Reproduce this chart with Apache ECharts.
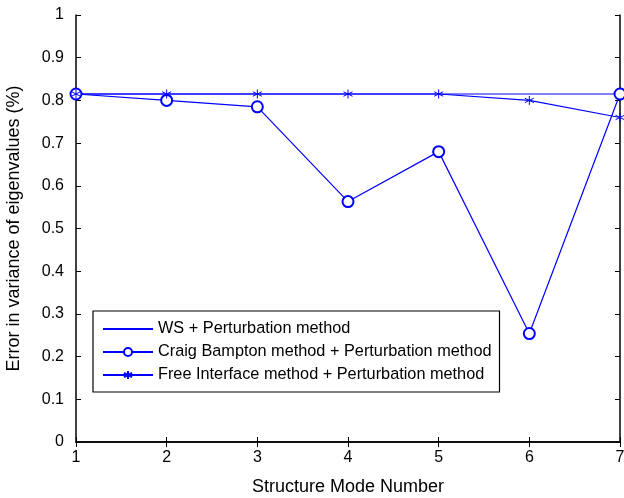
<!DOCTYPE html>
<html><head><meta charset="utf-8">
<script src="https://cdn.jsdelivr.net/npm/echarts@6/dist/echarts.min.js"></script>
<style>html,body{margin:0;padding:0;background:#fff}#c{width:624px;height:498px}</style>
</head><body><div id="c"></div>
<script>
const modes = [1, 2, 3, 4, 5, 6, 7];
const wsPert = [0.815, 0.815, 0.815, 0.815, 0.815, 0.815, 0.815];
const craigBampton = [0.815, 0.800, 0.785, 0.563, 0.680, 0.254, 0.815];
const freeInterface = [0.815, 0.815, 0.815, 0.815, 0.815, 0.800, 0.760];
const seriesNames = ['WS + Perturbation method', 'Craig Bampton method + Perturbation method', 'Free Interface method + Perturbation method'];

const blue = '#0000ff';
const star = 'path://M0,-5L0,5M-4.33,-2.5L4.33,2.5M-4.33,2.5L4.33,-2.5';
const pairs = arr => modes.map((m, i) => [m, arr[i]]);
const font = 'Liberation Sans, Arial, sans-serif';

const axisCommon = {
  axisLine: { show: true, lineStyle: { color: '#000', width: 1.5 } },
  axisTick: { show: true, inside: true, length: 5, lineStyle: { color: '#000' } },
  splitLine: { show: false }
};

const chart = echarts.init(document.getElementById('c'));
chart.setOption({
  animation: false,
  backgroundColor: '#fff',
  grid: { left: 76, right: 4, top: 15, bottom: 56, containLabel: false, outerBoundsMode: 'none' },
  xAxis: [
    Object.assign({ type: 'value', min: 1, max: 7, interval: 1, position: 'bottom',
      name: 'Structure Mode Number', nameLocation: 'middle', nameGap: 36,
      nameTextStyle: { fontSize: 18, color: '#000', fontFamily: font },
      axisLabel: { fontSize: 16, color: '#000', fontFamily: font, margin: 8 } }, axisCommon),
    Object.assign({ type: 'value', min: 1, max: 7, interval: 1, position: 'top',
      axisLabel: { show: false } }, axisCommon)
  ],
  yAxis: [
    Object.assign({ type: 'value', min: 0, max: 1, interval: 0.1, position: 'left',
      name: 'Error in variance of eigenvalues (%)', nameLocation: 'middle', nameGap: 53,
      nameTextStyle: { fontSize: 18, color: '#000', fontFamily: font },
      axisLabel: { fontSize: 16, color: '#000', fontFamily: font, margin: 12,
        formatter: v => String(Math.round(v * 10) / 10) } }, axisCommon),
    Object.assign({ type: 'value', min: 0, max: 1, interval: 0.1, position: 'right',
      axisLabel: { show: false } }, axisCommon)
  ],
  legend: {
    orient: 'vertical', left: 93, top: 311,
    borderColor: '#000', borderWidth: 1.2, backgroundColor: '#fff',
    padding: [10, 8, 9, 9], itemGap: 7, itemWidth: 50, itemHeight: 10,
    textStyle: { fontSize: 16.3, color: '#000', fontFamily: font },
    data: [
      { name: seriesNames[0], itemStyle: { opacity: 0 } },
      { name: seriesNames[1] },
      { name: seriesNames[2] }
    ]
  },
  series: [
    { name: seriesNames[0], type: 'line', data: pairs(wsPert), symbol: 'none',
      lineStyle: { color: blue, width: 1.2 }, itemStyle: { color: blue } },
    { name: seriesNames[1], type: 'line', data: pairs(craigBampton), symbol: 'emptyCircle', symbolSize: 11,
      lineStyle: { color: blue, width: 1.2 }, itemStyle: { color: blue, borderColor: blue, borderWidth: 1 } },
    { name: seriesNames[2], type: 'line', data: pairs(freeInterface), symbol: star, symbolSize: 9,
      lineStyle: { color: blue, width: 1.2 }, itemStyle: { color: blue, borderColor: blue, borderWidth: 1 } }
  ]
});
</script></body></html>
